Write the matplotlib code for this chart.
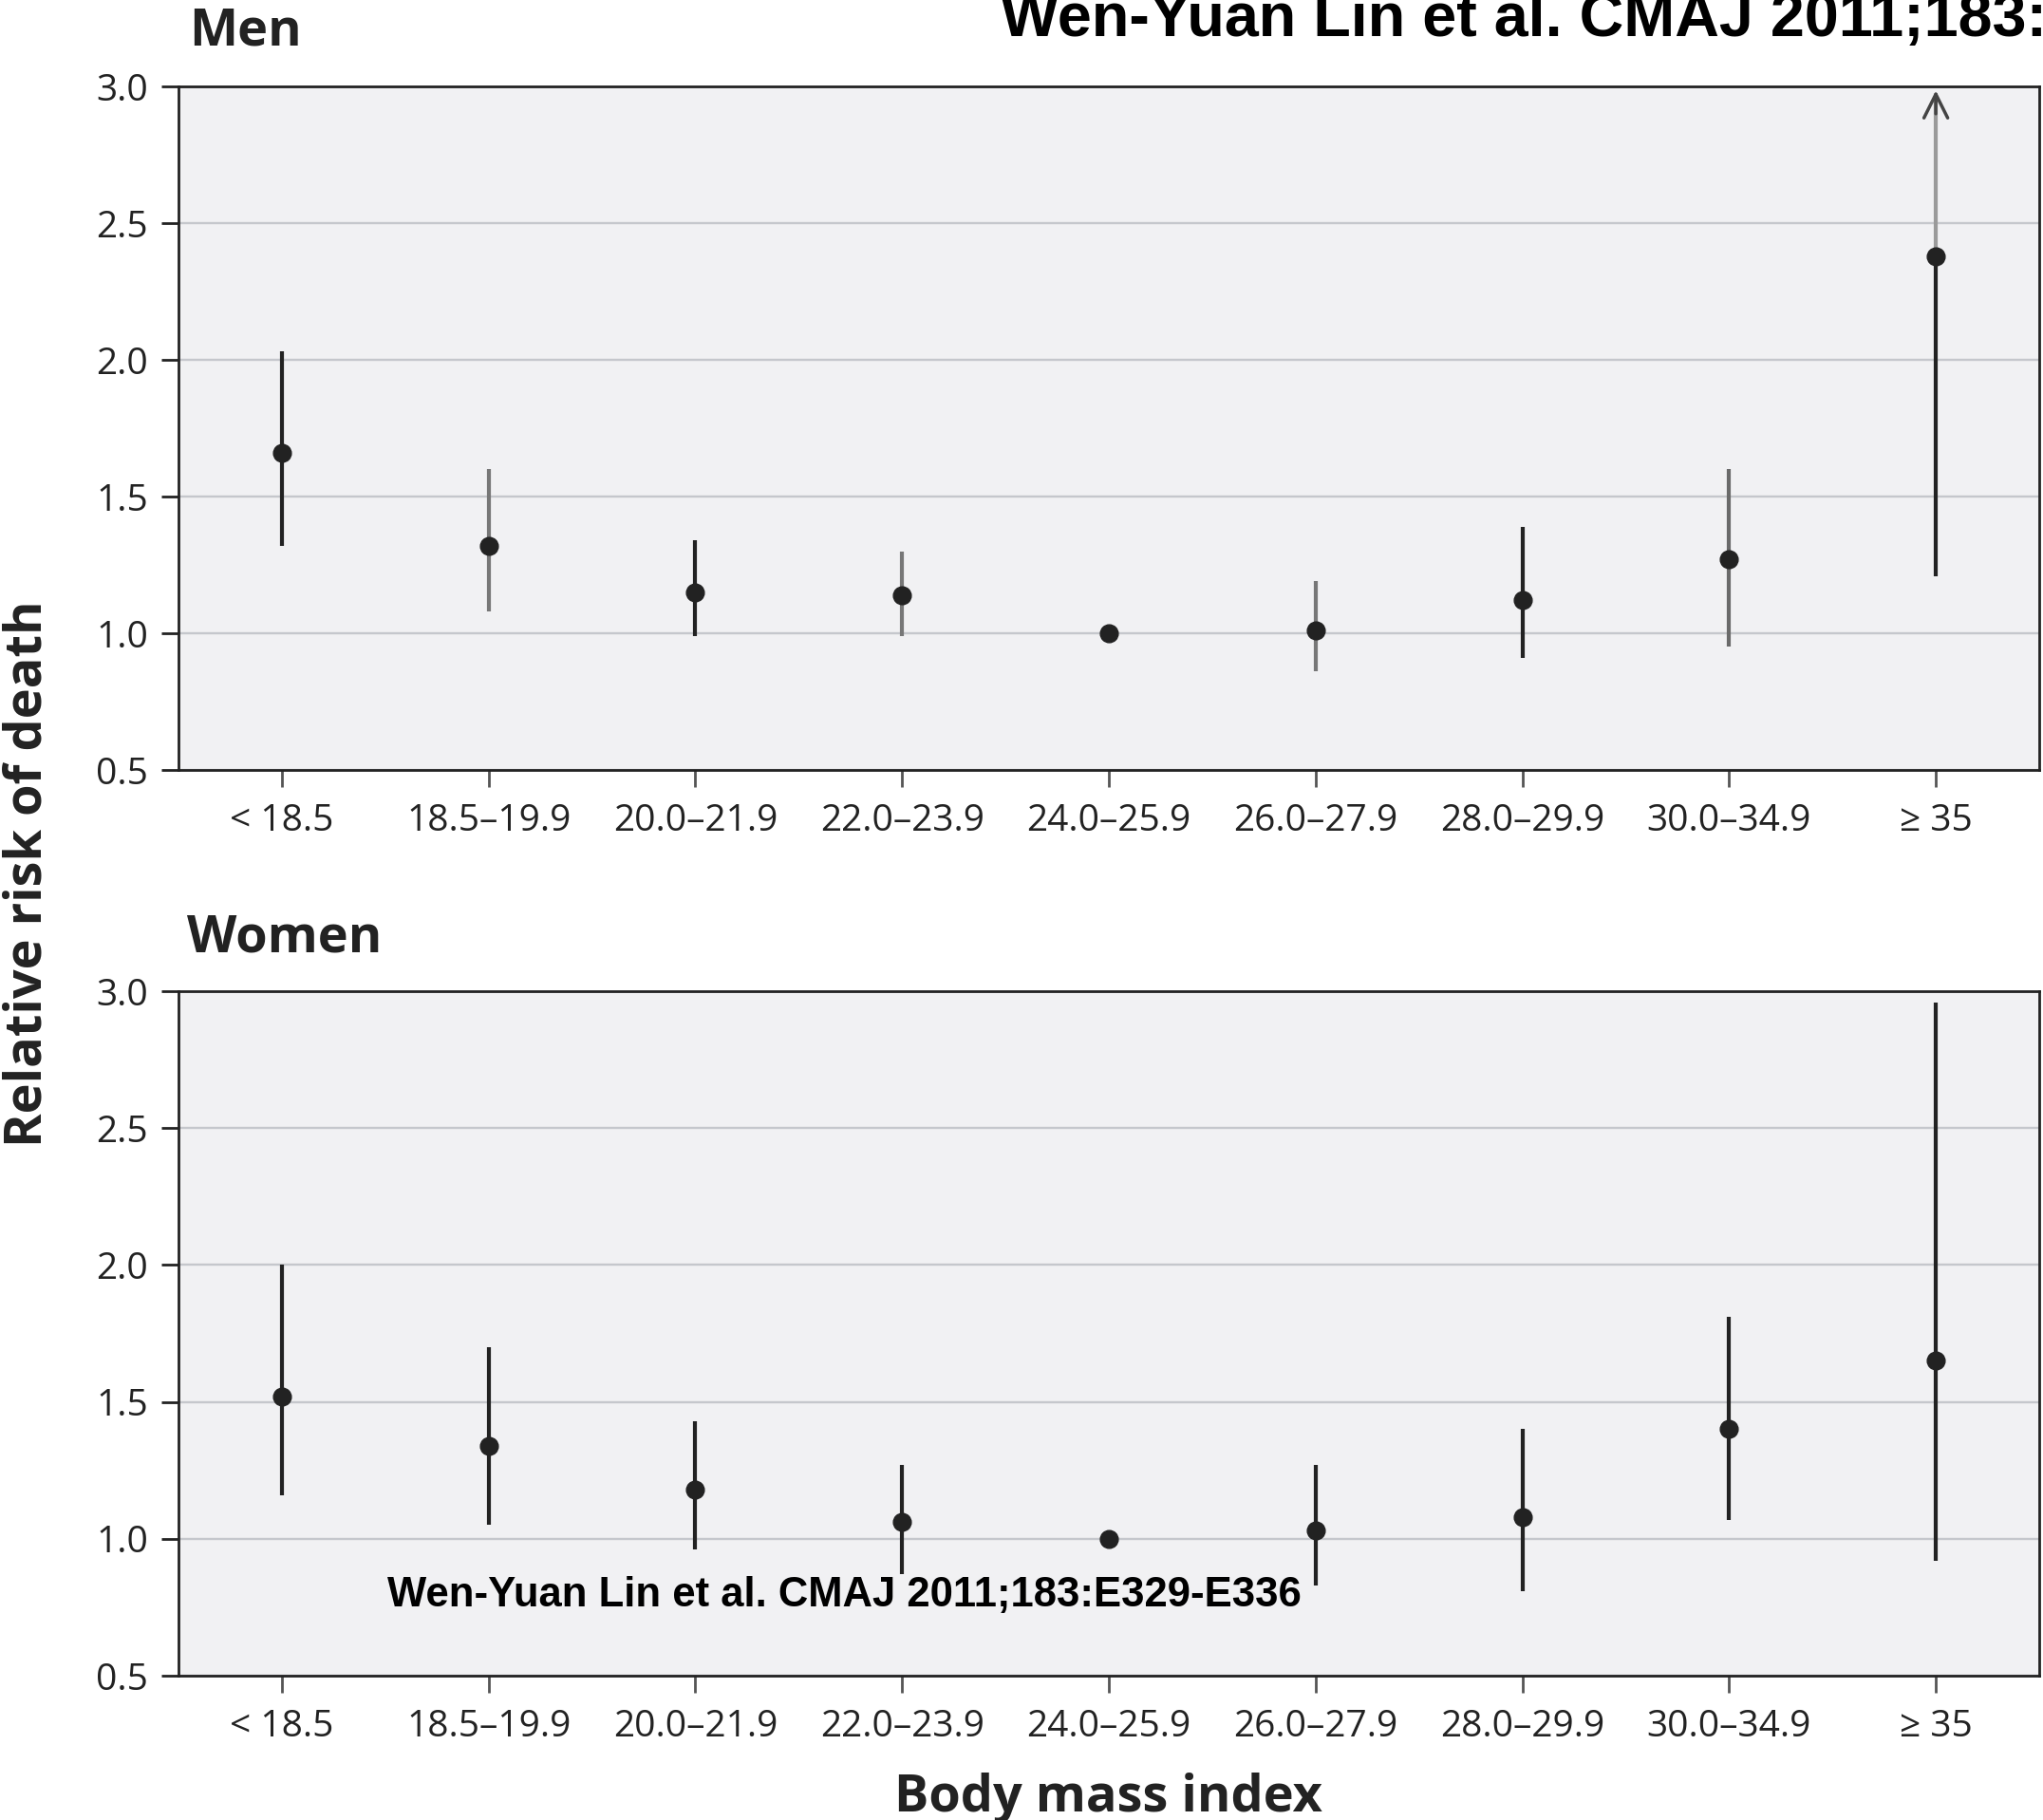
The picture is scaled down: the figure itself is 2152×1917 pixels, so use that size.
import numpy as np
import matplotlib.pyplot as plt

plt.rcParams['font.family'] = ['Open Sans', 'DejaVu Sans']

bmi_groups = ['< 18.5', '18.5–19.9', '20.0–21.9', '22.0–23.9', '24.0–25.9',
              '26.0–27.9', '28.0–29.9', '30.0–34.9', '≥ 35']

# relative risk and 95% CI; 24.0-25.9 is the reference group (no CI)
men_rr = [1.66, 1.32, 1.15, 1.14, 1.00, 1.01, 1.12, 1.27, 2.38]
men_lo = [1.32, 1.08, 0.99, 0.99, np.nan, 0.86, 0.91, 0.95, 1.21]
men_hi = [2.03, 1.60, 1.34, 1.30, np.nan, 1.19, 1.39, 1.60, np.nan]  # last one is off the scale
men_bar_col = ['#222222', '#777777', '#222222', '#777777', '#222222',
               '#777777', '#222222', '#6a6a6a', '#222222']

women_rr = [1.52, 1.34, 1.18, 1.06, 1.00, 1.03, 1.08, 1.40, 1.65]
women_lo = [1.16, 1.05, 0.96, 0.87, np.nan, 0.83, 0.81, 1.07, 0.92]
women_hi = [2.00, 1.70, 1.43, 1.27, np.nan, 1.27, 1.40, 1.81, 2.96]

yticks = [0.5, 1.0, 1.5, 2.0, 2.5, 3.0]

W, H = 2152, 1917
fig = plt.figure(figsize=(W / 100, H / 100), dpi=100)

ax1 = fig.add_axes([188 / W, 1 - 811 / H, 1960 / W, 720 / H])
ax2 = fig.add_axes([188 / W, 1 - 1765 / H, 1960 / W, 721 / H])

x = np.arange(len(bmi_groups))
dark = '#222222'


def style(ax):
    ax.set_facecolor('#f1f1f3')
    ax.set_xlim(-0.5, 8.5)
    ax.set_ylim(0.5, 3.0)
    ax.set_yticks(yticks)
    ax.set_yticklabels(['%.1f' % t for t in yticks])
    ax.set_xticks(x)
    ax.set_xticklabels(bmi_groups)
    ax.set_axisbelow(True)
    ax.yaxis.grid(True, color='#c5c7cc', lw=1.7)
    for s in ax.spines.values():
        s.set_color(dark)
        s.set_linewidth(2)
    ax.tick_params(axis='y', direction='out', length=13, width=2, color=dark,
                   labelsize=28, labelcolor=dark, pad=10)
    ax.tick_params(axis='x', direction='out', length=13, width=2, color='#555555',
                   labelsize=28, labelcolor=dark, pad=12)


style(ax1)
style(ax2)

# men
for i in range(len(x)):
    if not np.isnan(men_hi[i]):
        ax1.vlines(x[i], men_lo[i], men_hi[i], colors=men_bar_col[i], lw=3)
ax1.vlines(x[8], men_lo[8], men_rr[8], colors=dark, lw=3)
# upper limit runs off the chart: grey shaft with a small arrow head
ax1.vlines(x[8], men_rr[8], 2.95, colors='#9a9a9a', lw=3)
ax1.annotate('', xy=(x[8], 2.985), xytext=(x[8], 2.90),
             arrowprops=dict(arrowstyle='->,head_length=0.9,head_width=0.45',
                             color='#444444', lw=2.5, mutation_scale=20,
                             shrinkA=0, shrinkB=0))
ax1.plot(x, men_rr, 'o', ms=13.5, color=dark, zorder=3)

# women
for i in range(len(x)):
    if not np.isnan(women_hi[i]):
        ax2.vlines(x[i], women_lo[i], women_hi[i], colors=dark, lw=3)
ax2.plot(x, women_rr, 'o', ms=13.5, color=dark, zorder=3)

fig.text(199 / W, 1 - 47 / H, 'Men', fontsize=39, fontweight='bold',
         color=dark, va='baseline', ha='left')
fig.text(197 / W, 1 - 1002 / H, 'Women', fontsize=39, fontweight='bold',
         color=dark, va='baseline', ha='left')
fig.text(30 / W, 1 - 920 / H, 'Relative risk of death', fontsize=39,
         fontweight='bold', color=dark, rotation=90, va='center', ha='center')
fig.text(1167 / W, 1 - 1908 / H, 'Body mass index', fontsize=39,
         fontweight='bold', color=dark, va='baseline', ha='center')

cite = 'Wen-Yuan Lin et al. CMAJ 2011;183:E329-E336'
fig.text(1054 / W, 1 - 38 / H, cite, fontsize=46.5, fontweight='bold',
         family='Liberation Sans', color='black', va='baseline', ha='left')
fig.text(408 / W, 1 - 1692 / H, cite, fontsize=31.4, fontweight='bold',
         family='Liberation Sans', color='black', va='baseline', ha='left')

fig.savefig('out.png', dpi=100)
